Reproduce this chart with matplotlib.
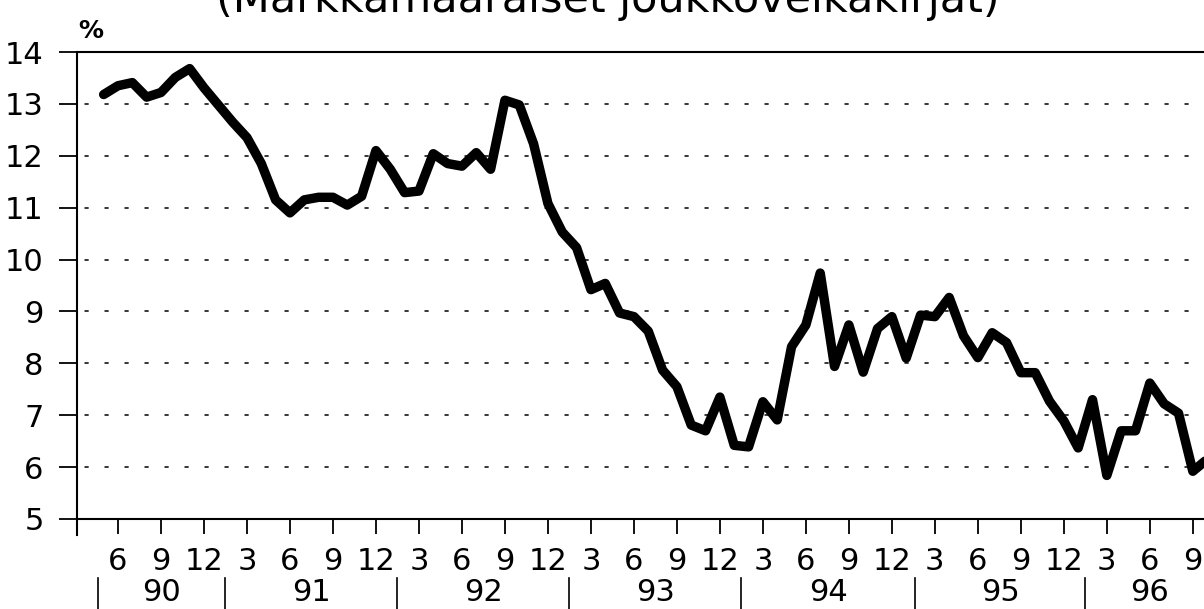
import numpy as np
import matplotlib
matplotlib.use("Agg")
import matplotlib.pyplot as plt

plt.rcParams["font.family"] = ["DejaVu Sans"]
plt.rcParams["lines.scale_dashes"] = False

# month index: 1 = Jan 1990
months = list(range(5, 83))
yields = [
    13.18, 13.35, 13.41, 13.13, 13.22, 13.51, 13.68, 13.31,   # 5-12/90
    12.98, 12.65, 12.35, 11.85, 11.15, 10.90, 11.15, 11.20,   # 1-8/91
    11.20, 11.05, 11.22, 12.10,                               # 9-12/91
    11.74, 11.29, 11.32, 12.04, 11.85, 11.80, 12.06, 11.74,   # 1-8/92
    13.07, 12.98, 12.23, 11.08,                               # 9-12/92
    10.53, 10.23, 9.42, 9.54, 8.97, 8.90, 8.62, 7.87,         # 1-8/93
    7.55, 6.81, 6.70, 7.35,                                   # 9-12/93
    6.42, 6.39, 7.26, 6.91, 8.32, 8.74, 9.74, 7.94,           # 1-8/94
    8.74, 7.83, 8.67, 8.90,                                   # 9-12/94
    8.10, 8.93, 8.90, 9.27, 8.53, 8.11, 8.59, 8.40,           # 1-8/95
    7.82, 7.82, 7.27, 6.89,                                   # 9-12/95
    6.37, 7.30, 5.84, 6.70, 6.70, 7.62, 7.22, 7.04,           # 1-8/96
    5.92, 6.15,                                               # 9-10/96
]

tick_months = list(range(6, 82, 3))
tick_labels = ["6", "9", "12"] + ["3", "6", "9", "12"] * 5 + ["3", "6", "9"]

years = ["90", "91", "92", "93", "94", "95", "96"]
year_bounds = [4.6, 13.5, 25.5, 37.5, 49.5, 61.6, 73.5, 82.5]

title = "(Markkamääräiset joukkovelkakirjat)"

fig = plt.figure(figsize=(12.04, 6.09), dpi=100)
ax = fig.add_axes([77 / 1204, 1 - 519 / 609, 1 - 77 / 1204, 467 / 609])

ax.plot(months, yields, color="black", lw=6.8,
        solid_joinstyle="round", solid_capstyle="round", zorder=3)

ax.set_xlim(3.14, 81.78)
ax.set_ylim(5, 14)

# dotted grid
for v in range(6, 14):
    ax.axhline(v, color="black", lw=1.1, linestyle=(9, (3, 11.4)), zorder=1)

ax.spines["right"].set_visible(False)
for s in ["left", "bottom", "top"]:
    ax.spines[s].set_linewidth(1.5)

ax.set_yticks(range(5, 15))
ax.tick_params(axis="y", direction="out", length=13, width=1.3,
               labelsize=22, pad=11)
ax.set_xticks(tick_months)
ax.set_xticklabels(tick_labels)
ax.tick_params(axis="x", direction="out", length=11, width=1.3,
               labelsize=22, pad=9)

# left spine runs a bit below the bottom axis
ax.plot([0, 0], [0, -0.034], transform=ax.transAxes, color="black",
        lw=1.5, clip_on=False)

# year row
trans = ax.get_xaxis_transform()
for b in year_bounds:
    ax.plot([b, b], [-0.126, -0.2], transform=trans, color="black",
            lw=1.2, clip_on=False)
for i, y in enumerate(years):
    xc = (year_bounds[i] + year_bounds[i + 1]) / 2
    ax.text(xc, -0.157, y, transform=trans, ha="center", va="center",
            fontsize=22)

fig.text(91 / 1204, 1 - 31 / 609, "%", ha="center", va="center",
         fontsize=18, fontweight="bold")
fig.text(0.505, 1 - 12 / 609, title, ha="center", va="baseline",
         fontsize=31)

fig.savefig("out.png", dpi=100)
